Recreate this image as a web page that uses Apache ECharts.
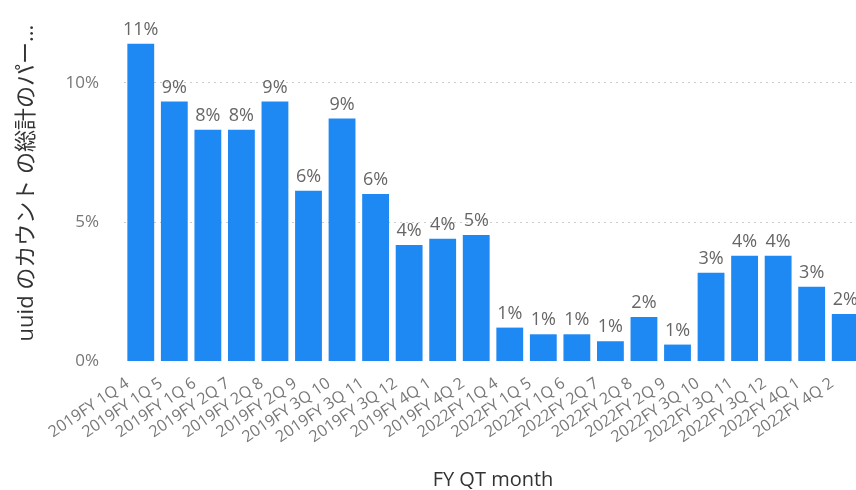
<!DOCTYPE html>
<html>
<head>
<meta charset="utf-8">
<script src="https://cdn.jsdelivr.net/npm/echarts@6/dist/echarts.min.js"></script>
<style>html,body{margin:0;padding:0;background:#fff;}#c{width:856px;height:490px;}</style>
</head>
<body>
<div id="c"></div>
<script>
const categories = [
  "2019FY 1Q 4","2019FY 1Q 5","2019FY 1Q 6","2019FY 2Q 7","2019FY 2Q 8","2019FY 2Q 9",
  "2019FY 3Q 10","2019FY 3Q 11","2019FY 3Q 12","2019FY 4Q 1","2019FY 4Q 2",
  "2022FY 1Q 4","2022FY 1Q 5","2022FY 1Q 6","2022FY 2Q 7","2022FY 2Q 8","2022FY 2Q 9",
  "2022FY 3Q 10","2022FY 3Q 11","2022FY 3Q 12","2022FY 4Q 1","2022FY 4Q 2"
];
const values = [
  11.40, 9.32, 8.31, 8.31, 9.32, 6.12,
  8.71, 6.00, 4.17, 4.39, 4.53,
  1.20, 0.96, 0.96, 0.71, 1.58, 0.59,
  3.17, 3.78, 3.78, 2.67, 1.69
];
const yTicks = [0, 5, 10];
const xAxisName = "FY QT month";
const yAxisName = "uuid のカウント の総計のパー...";

const FONT = "'Open Sans', 'Noto Sans CJK JP', sans-serif";
const chart = echarts.init(document.getElementById('c'), null, {renderer: 'canvas'});
chart.setOption({
  animation: false,
  backgroundColor: '#ffffff',
  textStyle: {fontFamily: FONT},
  grid: {left: 124, right: -6, top: 27, bottom: 129, containLabel: false, outerBoundsMode: 'none'},
  xAxis: {
    type: 'category',
    data: categories,
    name: xAxisName,
    nameLocation: 'middle',
    nameGap: 109,
    nameTextStyle: {color: '#333333', fontSize: 20, fontFamily: FONT},
    axisLine: {show: false},
    axisTick: {show: false},
    axisLabel: {interval: 0, rotate: 34, color: '#777777', fontSize: 16, margin: 12, padding: [0, 16, 0, 0], fontFamily: FONT}
  },
  yAxis: {
    type: 'value',
    min: 0,
    max: 12,
    interval: 5,
    name: yAxisName,
    nameLocation: 'middle',
    nameRotate: 90,
    nameGap: 86,
    nameTextStyle: {color: '#333333', fontSize: 22, fontFamily: FONT, padding: [0, 0, 0, 22]},
    axisLine: {show: false},
    axisTick: {show: false},
    axisLabel: {
      color: '#777777', fontSize: 17, margin: 25, fontFamily: FONT, showMaxLabel: false,
      formatter: v => yTicks.indexOf(v) >= 0 ? v + '%' : ''
    },
    splitLine: {show: true, lineStyle: {color: ['transparent', '#cccccc', '#cccccc', 'transparent'], type: [2, 4], width: 1}}
  },
  series: [{
    type: 'bar',
    data: values,
    barCategoryGap: '20%',
    itemStyle: {color: '#1f89f3'},
    label: {
      show: true, position: 'top', distance: 5, color: '#666666', fontSize: 18, fontFamily: FONT,
      formatter: p => Math.round(p.value) + '%'
    }
  }]
});
</script>
</body>
</html>
